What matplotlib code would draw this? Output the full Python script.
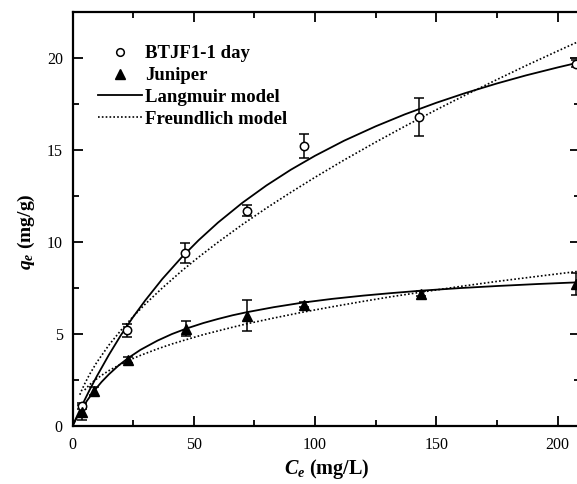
import matplotlib
matplotlib.use('Agg')
import matplotlib.pyplot as plt
from matplotlib.lines import Line2D
from matplotlib.ticker import MultipleLocator

plt.rcParams['font.family'] = 'Liberation Serif'
plt.rcParams['mathtext.fontset'] = 'custom'
plt.rcParams['mathtext.rm'] = 'Liberation Serif:bold'
plt.rcParams['mathtext.it'] = 'Liberation Serif:bold:italic'

# Datos experimentales
ce_btjf = [4, 22.5, 46.5, 72, 95.5, 143, 207.5]
qe_btjf = [1.1, 5.2, 9.4, 11.7, 15.2, 16.8, 19.7]
err_btjf = [0.15, 0.35, 0.55, 0.3, 0.65, 1.05, 0.2]

ce_jun = [4, 9, 23, 47, 72, 95.5, 143.5, 207.5]
qe_jun = [0.75, 1.9, 3.6, 5.3, 6.0, 6.6, 7.2, 7.7]
err_jun = [0.4, 0.2, 0.15, 0.4, 0.85, 0.15, 0.15, 0.6]

# Curvas de los modelos
lang_btjf_c = [0, 2, 4, 7, 10, 15, 20, 25, 30, 37, 45, 52, 60, 70, 80, 90, 100,
               112, 125, 137, 150, 162, 175, 187, 200, 210]
lang_btjf_q = [0, 0.58, 1.15, 1.95, 2.70, 3.87, 4.95, 5.93, 6.83, 7.99, 9.17, 10.10,
               11.06, 12.13, 13.08, 13.93, 14.69, 15.51, 16.29, 16.94, 17.57, 18.10,
               18.62, 19.06, 19.49, 19.80]
freu_btjf_c = [3, 4, 5, 7, 10, 15, 20, 25, 30, 37, 45, 52, 60, 70, 80, 90, 100,
               112, 125, 137, 150, 162, 175, 187, 200, 210]
freu_btjf_q = [1.70, 2.01, 2.29, 2.80, 3.46, 4.40, 5.21, 5.95, 6.63, 7.50, 8.43, 9.18,
               9.99, 10.95, 11.85, 12.70, 13.52, 14.46, 15.43, 16.29, 17.19, 17.99,
               18.83, 19.59, 20.38, 20.98]

lang_jun_c = [0, 2, 4, 6, 9, 12, 15, 19, 23, 28, 35, 41, 47, 54, 60, 66, 72, 83,
              95, 107, 120, 131, 143, 160, 175, 192, 210]
lang_jun_q = [0, 0.51, 0.97, 1.38, 1.93, 2.40, 2.81, 3.29, 3.70, 4.14, 4.64, 5.00,
              5.30, 5.60, 5.82, 6.02, 6.19, 6.46, 6.71, 6.91, 7.09, 7.22, 7.35, 7.50,
              7.61, 7.72, 7.82]
freu_jun_c = [5, 7, 9, 12, 15, 19, 23, 28, 35, 41, 47, 54, 60, 66, 72, 83, 95, 107,
              120, 131, 143, 160, 175, 192, 210]
freu_jun_q = [1.96, 2.24, 2.47, 2.76, 3.01, 3.30, 3.56, 3.84, 4.19, 4.46, 4.70, 4.97,
              5.17, 5.37, 5.56, 5.87, 6.19, 6.48, 6.78, 7.02, 7.26, 7.59, 7.86, 8.14, 8.43]

fig = plt.figure(figsize=(5.77, 4.84), dpi=100)
ax = fig.add_axes([0.1257, 0.1198, 0.8796, 0.8552])

dots = (0, (1, 1.3))
ax.plot(lang_btjf_c, lang_btjf_q, color='black', lw=1.3)
ax.plot(freu_btjf_c, freu_btjf_q, color='black', lw=1.2, linestyle=dots)
ax.plot(lang_jun_c, lang_jun_q, color='black', lw=1.3)
ax.plot(freu_jun_c, freu_jun_q, color='black', lw=1.2, linestyle=dots)

ax.errorbar(ce_btjf, qe_btjf, yerr=err_btjf, fmt='o', mfc='white', mec='black',
            mew=1.1, ms=6, ecolor='black', elinewidth=1.1, capsize=3.5, capthick=1.1)
ax.errorbar(ce_jun, qe_jun, yerr=err_jun, fmt='^', mfc='black', mec='black',
            ms=7, ecolor='black', elinewidth=1.1, capsize=3.5, capthick=1.1)

ax.set_xlim(0, 209.3)
ax.set_ylim(0, 22.5)
ax.xaxis.set_major_locator(MultipleLocator(50))
ax.xaxis.set_minor_locator(MultipleLocator(25))
ax.yaxis.set_major_locator(MultipleLocator(5))
ax.yaxis.set_minor_locator(MultipleLocator(2.5))
ax.tick_params(which='both', direction='in', top=True, right=True, width=1.3, labelsize=11.5)
ax.tick_params(which='major', length=7)
ax.tick_params(axis='x', which='major', pad=8)
ax.tick_params(axis='y', which='major', pad=7)
ax.tick_params(which='minor', length=4.5)
for s in ax.spines.values():
    s.set_linewidth(1.6)

ax.set_xlabel(r'$C_e$ (mg/L)', fontsize=14.5, fontweight='bold', labelpad=3)
ax.set_ylabel(r'$q_e$ (mg/g)', fontsize=14, fontweight='bold')
ax.yaxis.set_label_coords(-0.07, 0.47)

handles = [
    Line2D([], [], ls='none', marker='o', mfc='white', mec='black', mew=1.1, ms=5.5),
    Line2D([], [], ls='none', marker='^', mfc='black', mec='black', ms=6.5),
    Line2D([], [], color='black', lw=1.3),
    Line2D([], [], color='black', lw=1.2, linestyle=dots),
]
labels = ['BTJF1-1 day', 'Juniper', 'Langmuir model', 'Freundlich model']
ax.legend(handles, labels, loc='upper left', bbox_to_anchor=(0.05, 0.92), frameon=False,
          handlelength=2.35, handletextpad=0.16, labelspacing=0.25, borderaxespad=0,
          borderpad=0, prop={'weight': 'bold', 'size': 13.5})

fig.savefig('out.png', dpi=100)
